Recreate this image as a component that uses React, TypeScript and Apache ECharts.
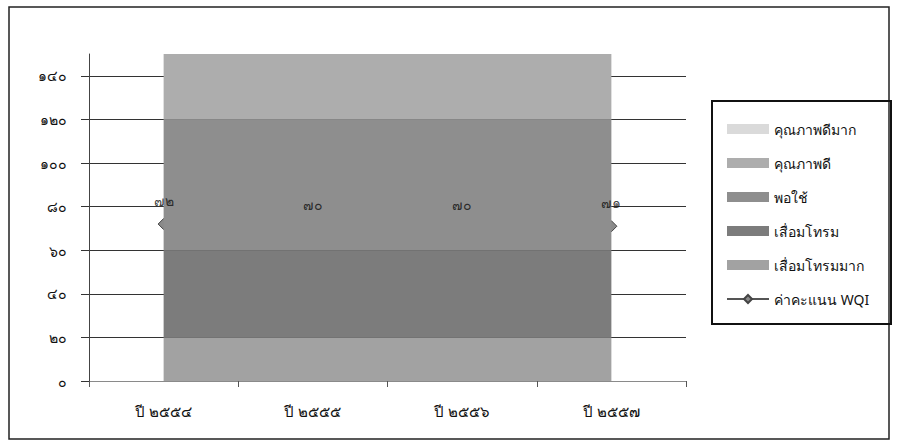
import React, { useEffect, useRef } from "react";
import * as echarts from "echarts";

const categories = ["ปี ๒๕๕๔", "ปี ๒๕๕๕", "ปี ๒๕๕๖", "ปี ๒๕๕๗"];
const veryPoor = [20, 20, 20, 20]; // เสื่อมโทรมมาก 0-20
const poor = [40, 40, 40, 40]; // เสื่อมโทรม 20-60
const fair = [60, 60, 60, 60]; // พอใช้ 60-120
const good = [30, 30, 30, 30]; // คุณภาพดี 120-150
const veryGood = [0, 0, 0, 0]; // คุณภาพดีมาก
const wqi = [72, 70, 70, 71];
const yTicks = [0, 20, 40, 60, 80, 100, 120, 140];

const THAI_DIGITS = "๐๑๒๓๔๕๖๗๘๙";
const toThai = (v: number | string) =>
  String(v).replace(/[0-9]/g, (d) => THAI_DIGITS[Number(d)]);

const FONT = "Noto Sans, Tahoma, sans-serif";

export default function App() {
  const ref = useRef<HTMLDivElement>(null);
  useEffect(() => {
    if (!ref.current) return;
    const chart = echarts.init(ref.current, undefined, { renderer: "svg" });
    const areaSeries = (name: string, data: number[], color: string) => ({
      name,
      type: "line",
      stack: "quality",
      data,
      symbol: "none",
      lineStyle: { width: 0 },
      areaStyle: { color, opacity: 1 },
      itemStyle: { color },
      z: 3,
    });
    chart.setOption({
      animation: false,
      backgroundColor: "#ffffff",
      textStyle: { fontFamily: FONT },
      grid: { left: 89, right: 212, top: 54, bottom: 67 },
      xAxis: {
        type: "category",
        data: categories,
        boundaryGap: true,
        axisLine: { show: true, lineStyle: { color: "#8a8a8a", width: 1 } },
        axisTick: { show: true, length: 6, lineStyle: { color: "#555" } },
        axisLabel: { margin: 22, color: "#111", fontSize: 15, fontFamily: FONT },
        splitLine: { show: false },
      },
      yAxis: {
        type: "value",
        min: 0,
        max: 150,
        interval: 20,
        axisLine: { show: true, lineStyle: { color: "#444", width: 1 } },
        axisTick: {
          show: true,
          length: 8,
          lineStyle: { color: "#333" },
          customValues: yTicks,
        },
        axisLabel: {
          margin: 22,
          color: "#111",
          fontSize: 14,
          fontFamily: FONT,
          customValues: yTicks,
          formatter: (v: number) => (v > 140 ? "" : toThai(v)),
        },
        splitLine: {
          show: true,
          showMinLine: false,
          lineStyle: { color: "#333", width: 1 },
        },
      },
      legend: {
        orient: "vertical",
        left: 721,
        top: 117,
        itemWidth: 42,
        itemHeight: 10,
        itemGap: 20,
        textStyle: { fontSize: 14, color: "#111", fontFamily: FONT },
        data: [
          { name: "คุณภาพดีมาก", icon: "rect" },
          { name: "คุณภาพดี", icon: "rect" },
          { name: "พอใช้", icon: "rect" },
          { name: "เสื่อมโทรม", icon: "rect" },
          { name: "เสื่อมโทรมมาก", icon: "rect" },
          { name: "ค่าคะแนน WQI" },
        ],
      },
      graphic: [
        {
          type: "rect",
          shape: { x: 9, y: 7, width: 880, height: 432 },
          style: { fill: "none", stroke: "#222", lineWidth: 1.5 },
          silent: true,
          z: 100,
        },
        {
          type: "rect",
          shape: { x: 712, y: 101, width: 179, height: 223 },
          style: { fill: "none", stroke: "#111", lineWidth: 2 },
          silent: true,
          z: 100,
        },
      ],
      series: [
        {
          name: "ค่าคะแนน WQI",
          type: "line",
          data: wqi,
          symbol: "diamond",
          symbolSize: 11,
          lineStyle: { color: "#555", width: 1.5 },
          itemStyle: { color: "#8a8a8a", borderColor: "#444", borderWidth: 1 },
          z: 1,
        },
        areaSeries("เสื่อมโทรมมาก", veryPoor, "#a2a2a2"),
        areaSeries("เสื่อมโทรม", poor, "#7c7c7c"),
        areaSeries("พอใช้", fair, "#8e8e8e"),
        areaSeries("คุณภาพดี", good, "#adadad"),
        areaSeries("คุณภาพดีมาก", veryGood, "#dadada"),
        {
          name: "wqi-labels",
          type: "scatter",
          data: wqi,
          symbolSize: 1,
          itemStyle: { color: "rgba(0,0,0,0)" },
          label: {
            show: true,
            position: "top",
            distance: 16,
            color: "#111",
            fontSize: 14,
            fontFamily: FONT,
            formatter: (p: any) => toThai(p.value),
          },
          z: 10,
        },
      ],
    });
    return () => chart.dispose();
  }, []);
  return (
    <div
      ref={ref}
      style={{ position: "fixed", left: 0, top: 0, width: 898, height: 448 }}
    />
  );
}
